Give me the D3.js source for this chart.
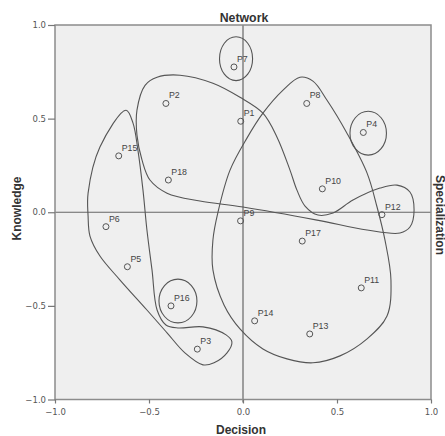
<!DOCTYPE html>
<html>
<head>
<meta charset="utf-8">
<script src="https://cdn.jsdelivr.net/npm/d3@7"></script>
<style>
  html, body { margin: 0; padding: 0; background: #ffffff; }
  svg { display: block; }
</style>
</head>
<body>
<svg id="chart" width="445" height="436"></svg>
<script>
// ---------- data ----------
const ids = ["P1","P2","P3","P4","P5","P6","P7","P8","P9","P10","P11","P12","P13","P14","P15","P16","P17","P18"];
const decision  = [-0.012,-0.410,-0.243, 0.640,-0.615,-0.729,-0.048, 0.339,-0.013, 0.422, 0.629, 0.739, 0.355, 0.062,-0.661,-0.383, 0.315,-0.397];
const knowledge = [ 0.486, 0.581,-0.731, 0.426,-0.291,-0.077, 0.776, 0.581,-0.046, 0.125,-0.404,-0.013,-0.650,-0.580, 0.301,-0.500,-0.154, 0.172];

const tickValues = [-1.0, -0.5, 0.0, 0.5, 1.0];
const titleTop = "Network", titleBottom = "Decision", titleLeft = "Knowledge", titleRight = "Specialization";

// cluster outlines (data units)
const groupLeft = [[-0.622,0.545],[-0.761,0.348],[-0.824,0.102],[-0.824,-0.020],[-0.814,-0.127],[-0.761,-0.234],[-0.654,-0.362],[-0.511,-0.522],[-0.404,-0.644],[-0.309,-0.751],[-0.213,-0.815],[-0.154,-0.804],[-0.085,-0.751],[-0.059,-0.692],[-0.090,-0.655],[-0.213,-0.612],[-0.346,-0.618],[-0.410,-0.602],[-0.457,-0.522],[-0.484,-0.308],[-0.511,-0.095],[-0.532,0.118],[-0.559,0.332],[-0.585,0.476]];
const groupTop = [[-0.457,0.721],[-0.335,0.732],[-0.160,0.689],[-0.016,0.614],[0.106,0.529],[0.181,0.401],[0.250,0.225],[0.287,0.118],[0.330,0.033],[0.399,-0.015],[0.479,-0.004],[0.585,0.065],[0.729,0.129],[0.819,0.145],[0.888,0.108],[0.910,0.012],[0.888,-0.079],[0.835,-0.111],[0.660,-0.095],[0.394,-0.042],[0.000,0.028],[-0.229,0.060],[-0.404,0.102],[-0.495,0.172],[-0.537,0.278],[-0.564,0.412],[-0.564,0.545],[-0.521,0.678]];
const groupRight = [[0.213,0.652],[0.303,0.721],[0.372,0.700],[0.447,0.598],[0.553,0.422],[0.660,0.209],[0.713,0.028],[0.755,-0.148],[0.787,-0.362],[0.766,-0.554],[0.660,-0.676],[0.516,-0.767],[0.372,-0.804],[0.234,-0.783],[0.106,-0.730],[-0.016,-0.623],[-0.101,-0.495],[-0.160,-0.308],[-0.160,-0.148],[-0.133,0.001],[-0.069,0.225],[0.021,0.396],[0.106,0.529]];
// small ellipses: [cx, cy, rx, ry] in data units
const ellipseP7  = [-0.037, 0.820, 0.088, 0.117];
const ellipseP4  = [ 0.666, 0.422, 0.097, 0.117];
const ellipseP16 = [-0.346,-0.474, 0.101, 0.117];

// ---------- layout ----------
const W = 445, H = 436;
const plot = { left: 55, right: 431, top: 25, bottom: 399.5 };
const svg = d3.select("#chart");
const x = d3.scaleLinear().domain([-1, 1]).range([plot.left, plot.right]);
const y = d3.scaleLinear().domain([-1, 1]).range([plot.bottom, plot.top]);

const lineCol = "#555";
const textCol = "#333";

// plot background
svg.append("rect")
  .attr("x", plot.left).attr("y", plot.top)
  .attr("width", plot.right - plot.left).attr("height", plot.bottom - plot.top)
  .attr("fill", "#efefef");

// zero reference lines
svg.append("line").attr("x1", x(0)).attr("x2", x(0)).attr("y1", plot.top).attr("y2", plot.bottom + 3)
  .attr("stroke", "#666").attr("stroke-width", 1.2);
svg.append("line").attr("x1", plot.left).attr("x2", plot.right).attr("y1", y(0)).attr("y2", y(0))
  .attr("stroke", "#666").attr("stroke-width", 1.2);

// outlines
const outline = d3.line().x(d => x(d[0])).y(d => y(d[1])).curve(d3.curveCatmullRomClosed.alpha(0.5));
[groupLeft, groupTop, groupRight].forEach(g => {
  svg.append("path").attr("d", outline(g)).attr("fill", "none")
    .attr("stroke", lineCol).attr("stroke-width", 1.1);
});
[ellipseP7, ellipseP4, ellipseP16].forEach(e => {
  svg.append("ellipse")
    .attr("cx", x(e[0])).attr("cy", y(e[1]))
    .attr("rx", x(e[0] + e[2]) - x(e[0])).attr("ry", y(e[1]) - y(e[1] + e[3]))
    .attr("fill", "none").attr("stroke", lineCol).attr("stroke-width", 1.1);
});

// frame
svg.append("rect")
  .attr("x", plot.left).attr("y", plot.top)
  .attr("width", plot.right - plot.left).attr("height", plot.bottom - plot.top)
  .attr("fill", "none").attr("stroke", "#8c8c8c").attr("stroke-width", 1.5);

// axes
const fmt = d3.format(".1f");
const axL = svg.append("g").attr("transform", `translate(${plot.left},0)`)
  .call(d3.axisLeft(y).tickValues(tickValues).tickFormat(fmt).tickSize(7).tickPadding(2));
const axB = svg.append("g").attr("transform", `translate(0,${plot.bottom})`)
  .call(d3.axisBottom(x).tickValues(tickValues).tickFormat(fmt).tickSize(4).tickPadding(5));
[axL, axB].forEach(a => {
  a.select(".domain").remove();
  a.selectAll(".tick line").attr("stroke", "#777").attr("stroke-width", 1.2);
  a.selectAll(".tick text").attr("fill", "#555")
    .attr("font-family", "'DejaVu Sans', sans-serif").attr("font-size", 8.5);
});

// points
const pts = ids.map((id, i) => ({ id, dx: decision[i], ky: knowledge[i] }));
svg.append("g").selectAll("circle").data(pts).join("circle")
  .attr("cx", d => x(d.dx)).attr("cy", d => y(d.ky)).attr("r", 3)
  .attr("fill", "none").attr("stroke", "#555").attr("stroke-width", 1);
svg.append("g").selectAll("text").data(pts).join("text")
  .attr("x", d => x(d.dx) + 3).attr("y", d => y(d.ky) - 5)
  .attr("font-family", "'Liberation Sans', Arial, sans-serif").attr("font-size", 8.8)
  .attr("fill", "#444").text(d => d.id);

// titles
const titleFont = "'Liberation Sans', Arial, sans-serif";
svg.append("text").attr("x", 244).attr("y", 21.5).attr("text-anchor", "middle")
  .attr("font-family", titleFont).attr("font-weight", "bold").attr("font-size", 12.3)
  .attr("fill", textCol).text(titleTop);
svg.append("text").attr("x", 241).attr("y", 433.5).attr("text-anchor", "middle")
  .attr("font-family", titleFont).attr("font-weight", "bold").attr("font-size", 12)
  .attr("fill", textCol).text(titleBottom);
svg.append("text").attr("transform", "translate(20.5,208.5) rotate(-90)").attr("text-anchor", "middle")
  .attr("font-family", titleFont).attr("font-weight", "bold").attr("font-size", 12)
  .attr("fill", textCol).text(titleLeft);
svg.append("text").attr("transform", "translate(435.5,215) rotate(90)").attr("text-anchor", "middle")
  .attr("font-family", titleFont).attr("font-weight", "bold").attr("font-size", 12)
  .attr("fill", textCol).text(titleRight);
</script>
</body>
</html>
